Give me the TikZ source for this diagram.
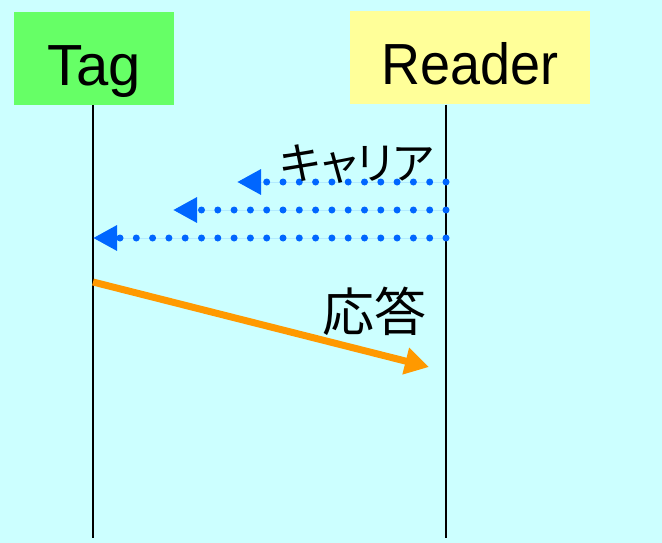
\documentclass[tikz,border=0pt]{standalone}
\usepackage{fontspec}
\setmainfont{Liberation Sans}
\newfontfamily\jpfont[RawFeature=+palt]{Noto Sans CJK JP}
\usetikzlibrary{arrows.meta}
\definecolor{bgc}{HTML}{CCFFFF}
\definecolor{tagc}{HTML}{66FF66}
\definecolor{readc}{HTML}{FFFF99}
\definecolor{carc}{HTML}{0066FF}
\definecolor{respc}{HTML}{FF9900}
\tikzset{
  actor/.style={draw=none, anchor=base, inner xsep=0pt, inner ysep=0pt, text height=73pt, text depth=20pt,
     font=\fontsize{58}{62}\selectfont},
  lifeline/.style={draw=black, line width=1.5pt},
  carrier/.style={draw=carc, line width=7pt, line cap=round, dash pattern=on 0pt off 16.3pt,
     -{Triangle[length=24pt,width=24pt]}, shorten >=-1pt},
  response/.style={draw=respc, line width=7pt, -{Triangle[length=24pt,width=26pt]}},
  lbl/.style={inner sep=0pt, text=black}
}
\begin{document}
\begin{tikzpicture}[x=1pt,y=-1pt]
\fill[bgc] (0,0) rectangle (662,543);
\useasboundingbox (0,0) rectangle (662,543);
\node[actor, fill=tagc, minimum width=160pt] (tag) at (94,85) {Tag};
\node[actor, fill=readc, minimum width=240pt] (reader) at (470,84.5) {\scalebox{0.93}[1]{Reader}};
\coordinate (tagend) at (93,538);
\coordinate (readend) at (446,538);
\draw[lifeline] (tag.south -| tagend) -- (tagend);
\draw[lifeline] (reader.south -| readend) -- (readend);
% carrier arrows
\coordinate (r1) at (446,182); \coordinate (t1) at (238,182);
\coordinate (r2) at (446,210); \coordinate (t2) at (174,210);
\coordinate (r3) at (446,238); \coordinate (t3) at (94,238);
\draw[carrier, fill=carc] (r1) -- (t1);
\draw[carrier, fill=carc] (r2) -- (t2);
\draw[carrier, fill=carc] (r3) -- (t3);
\node[lbl, font=\jpfont\fontsize{44}{48}\selectfont] (carlbl) at (357,164) {キャリア};
% response
\coordinate (t4) at (93,282);
\coordinate (r4) at (429,367);
\draw[response, fill=respc] (t4) -- (r4);
\node[lbl, font=\jpfont\fontsize{52}{56}\selectfont] (resplbl) at (374,311) {応答};
\end{tikzpicture}
\end{document}
